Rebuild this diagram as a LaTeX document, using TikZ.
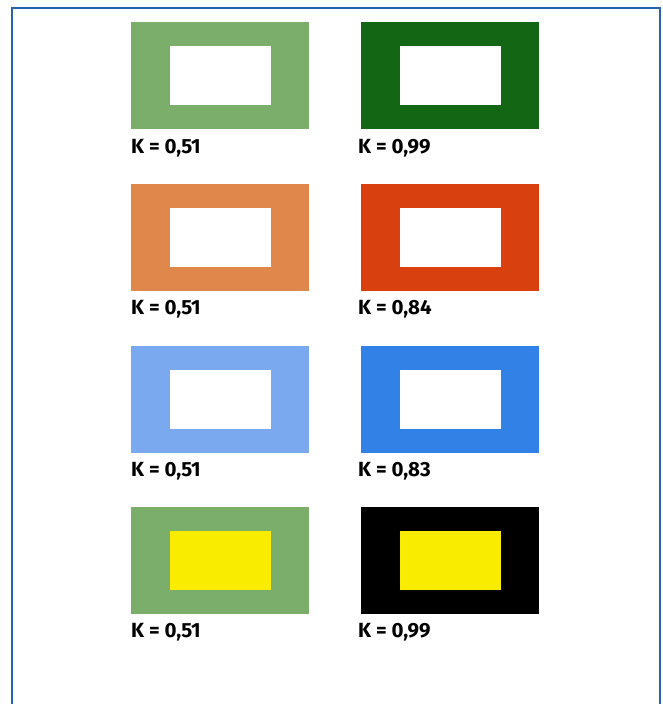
\documentclass[tikz,border=0pt]{standalone}
\usepackage{fontspec}
\setmainfont{Fira Sans}
\definecolor{frameblue}{HTML}{2A62AE}
\definecolor{lgreen}{HTML}{7BAE6A}
\definecolor{dgreen}{HTML}{136614}
\definecolor{lorange}{HTML}{E0874C}
\definecolor{dorange}{HTML}{D8410F}
\definecolor{lblue}{HTML}{7BA9EF}
\definecolor{dblue}{HTML}{3181E7}
\definecolor{yell}{HTML}{F9EC00}
\tikzset{
  outerbox/.style={draw=none,inner sep=0pt,minimum width=178pt,minimum height=107pt,anchor=north west},
  innerbox/.style={draw=none,inner sep=0pt,minimum width=101pt,minimum height=59pt},
  klabel/.style={anchor=base west,inner sep=0pt,font=\fontsize{20.5}{22}\selectfont\bfseries},
}
\begin{document}
\begin{tikzpicture}[x=1pt,y=-1pt]
\useasboundingbox (0,0) rectangle (662,704);
\fill[white] (0,0) rectangle (662,704);
\coordinate (fa) at (11.5,704);
\coordinate (fb) at (11.5,7.5);
\coordinate (fc) at (660,7.5);
\coordinate (fd) at (660,704);
\draw[frameblue,line width=2pt] (fa) -- (fb) -- (fc) -- (fd);
% row 1
\node[outerbox,fill=lgreen] (r1l) at (131,22) {};
\node[innerbox,fill=white] (i1l) at (r1l.center) {};
\node[klabel] (k1l) at (131,153) {K = 0,51};
\node[outerbox,fill=dgreen] (r1r) at (361,22) {};
\node[innerbox,fill=white] (i1r) at (r1r.center) {};
\node[klabel] (k1r) at (358,153) {K = 0,99};
% row 2
\node[outerbox,fill=lorange] (r2l) at (131,184) {};
\node[innerbox,fill=white] (i2l) at (r2l.center) {};
\node[klabel] (k2l) at (131,314.5) {K = 0,51};
\node[outerbox,fill=dorange] (r2r) at (361,184) {};
\node[innerbox,fill=white] (i2r) at (r2r.center) {};
\node[klabel] (k2r) at (358,314.5) {K = 0,84};
% row 3
\node[outerbox,fill=lblue] (r3l) at (131,345.5) {};
\node[innerbox,fill=white] (i3l) at (r3l.center) {};
\node[klabel] (k3l) at (131,476) {K = 0,51};
\node[outerbox,fill=dblue] (r3r) at (361,345.5) {};
\node[innerbox,fill=white] (i3r) at (r3r.center) {};
\node[klabel] (k3r) at (358,476) {K = 0,83};
% row 4
\node[outerbox,fill=lgreen] (r4l) at (131,506.5) {};
\node[innerbox,fill=yell] (i4l) at (r4l.center) {};
\node[klabel] (k4l) at (131,637.5) {K = 0,51};
\node[outerbox,fill=black] (r4r) at (361,506.5) {};
\node[innerbox,fill=yell] (i4r) at (r4r.center) {};
\node[klabel] (k4r) at (358,637.5) {K = 0,99};
\end{tikzpicture}
\end{document}
